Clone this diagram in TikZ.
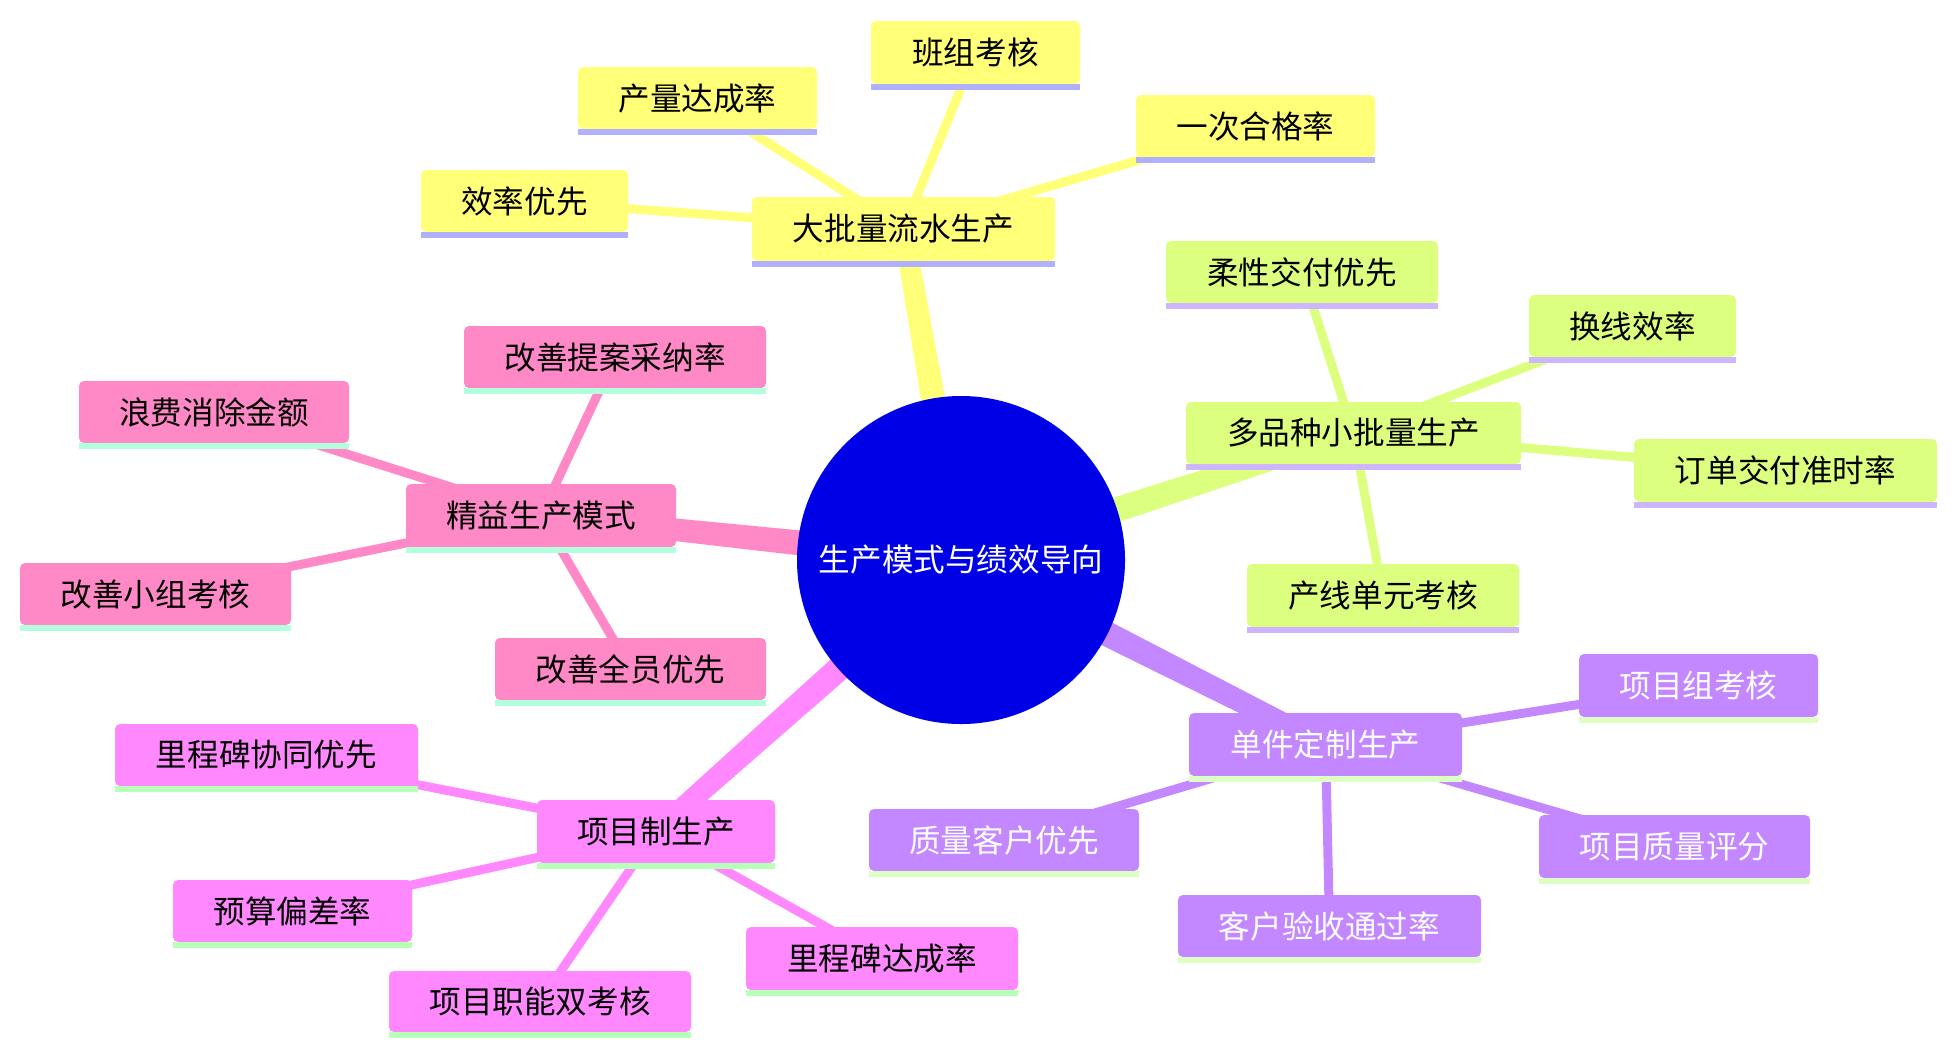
\documentclass[tikz,border=0pt]{standalone}
\usepackage{fontspec}
\setmainfont{Noto Sans CJK SC}
\usetikzlibrary{calc}
\definecolor{fillY}{HTML}{FFFF78}
\definecolor{lineY}{HTML}{B0B0FF}
\definecolor{fillG}{HTML}{DCFF80}
\definecolor{lineG}{HTML}{CDB6FF}
\definecolor{fillP}{HTML}{C387FF}
\definecolor{lineP}{HTML}{DDFFC4}
\definecolor{fillK}{HTML}{FF88C6}
\definecolor{lineK}{HTML}{B3FFDD}
\definecolor{fillM}{HTML}{FF88FF}
\definecolor{lineM}{HTML}{B8FFB8}
\definecolor{fillRoot}{HTML}{0000E6}
\pgfdeclarelayer{bg}
\pgfsetlayers{bg,main}
\tikzset{
  mmfont/.style={font=\fontsize{15.8}{19}\selectfont},
  mmbox/.style={rounded corners=2.5pt, inner sep=0pt, mmfont},
  rootnode/.style={circle, fill=fillRoot, text=white, inner sep=0pt, minimum size=164pt, mmfont},
  leafedge/.style={line width=4.5pt},
}
% name, x1, x2, y1, y2, fill, text, textcolor, underline colour
\newcommand\mmnode[9]{%
  \node[mmbox, fill=#6, text=#8, minimum width={(#3-#2)*0.5pt}, minimum height={(#5-#4-6)*0.5pt}]
    (#1) at ({(#2+#3)/2},{(#4+#5-6)/2}) {#7};
  \fill[#9] (#1.south west) rectangle ([yshift=-3pt]#1.south east);}
% tapered trunk: from, to, colour
\newcommand\mmtrunk[3]{%
  \fill[#3] ($(#1.center)!7pt!90:(#2.center)$) -- ($(#2.center)!5pt!-90:(#1.center)$)
    -- ($(#2.center)!5pt!90:(#1.center)$) -- ($(#1.center)!7pt!-90:(#2.center)$) -- cycle;}
\begin{document}
\begin{tikzpicture}[x=0.5pt,y=-0.5pt]
\useasboundingbox (0,0) rectangle (1957,1057);
\node[rootnode] (root) at (961,560) {生产模式与绩效导向};
% yellow
\mmnode{A}{752}{1055}{197}{267}{fillY}{大批量流水生产}{black}{lineY}
\mmnode{A1}{421}{628}{170}{238}{fillY}{效率优先}{black}{lineY}
\mmnode{A2}{578}{817}{67}{135}{fillY}{产量达成率}{black}{lineY}
\mmnode{A3}{871}{1080}{21}{90}{fillY}{班组考核}{black}{lineY}
\mmnode{A4}{1136}{1375}{95}{163}{fillY}{一次合格率}{black}{lineY}
% green
\mmnode{B}{1186}{1521}{402}{470}{fillG}{多品种小批量生产}{black}{lineG}
\mmnode{B1}{1166}{1438}{241}{309}{fillG}{柔性交付优先}{black}{lineG}
\mmnode{B2}{1529}{1736}{295}{363}{fillG}{换线效率}{black}{lineG}
\mmnode{B3}{1634}{1937}{439}{508}{fillG}{订单交付准时率}{black}{lineG}
\mmnode{B4}{1247}{1519}{564}{633}{fillG}{产线单元考核}{black}{lineG}
% purple
\mmnode{C}{1189}{1462}{713}{782}{fillP}{单件定制生产}{white}{lineP}
\mmnode{C1}{1579}{1818}{654}{723}{fillP}{项目组考核}{white}{lineP}
\mmnode{C2}{1539}{1810}{815}{884}{fillP}{项目质量评分}{white}{lineP}
\mmnode{C3}{1178}{1481}{895}{963}{fillP}{客户验收通过率}{white}{lineP}
\mmnode{C4}{869}{1139}{809}{877}{fillP}{质量客户优先}{white}{lineP}
% pink
\mmnode{D}{406}{676}{484}{553}{fillK}{精益生产模式}{black}{lineK}
\mmnode{D1}{464}{766}{326}{394}{fillK}{改善提案采纳率}{black}{lineK}
\mmnode{D2}{79}{349}{381}{449}{fillK}{浪费消除金额}{black}{lineK}
\mmnode{D3}{20}{291}{563}{631}{fillK}{改善小组考核}{black}{lineK}
\mmnode{D4}{495}{766}{638}{706}{fillK}{改善全员优先}{black}{lineK}
% magenta
\mmnode{E}{537}{775}{800}{869}{fillM}{项目制生产}{black}{lineM}
\mmnode{E1}{115}{418}{724}{792}{fillM}{里程碑协同优先}{black}{lineM}
\mmnode{E2}{173}{412}{880}{948}{fillM}{预算偏差率}{black}{lineM}
\mmnode{E3}{389}{691}{971}{1038}{fillM}{项目职能双考核}{black}{lineM}
\mmnode{E4}{746}{1018}{927}{996}{fillM}{里程碑达成率}{black}{lineM}
\begin{pgfonlayer}{bg}
\mmtrunk{root}{A}{fillY}
\mmtrunk{root}{B}{fillG}
\mmtrunk{root}{C}{fillP}
\mmtrunk{root}{D}{fillK}
\mmtrunk{root}{E}{fillM}
\foreach \i in {1,...,4}{
  \draw[leafedge,fillY] (A.center) -- (A\i.center);
  \draw[leafedge,fillG] (B.center) -- (B\i.center);
  \draw[leafedge,fillP] (C.center) -- (C\i.center);
  \draw[leafedge,fillK] (D.center) -- (D\i.center);
  \draw[leafedge,fillM] (E.center) -- (E\i.center);
}
\end{pgfonlayer}
\end{tikzpicture}
\end{document}
